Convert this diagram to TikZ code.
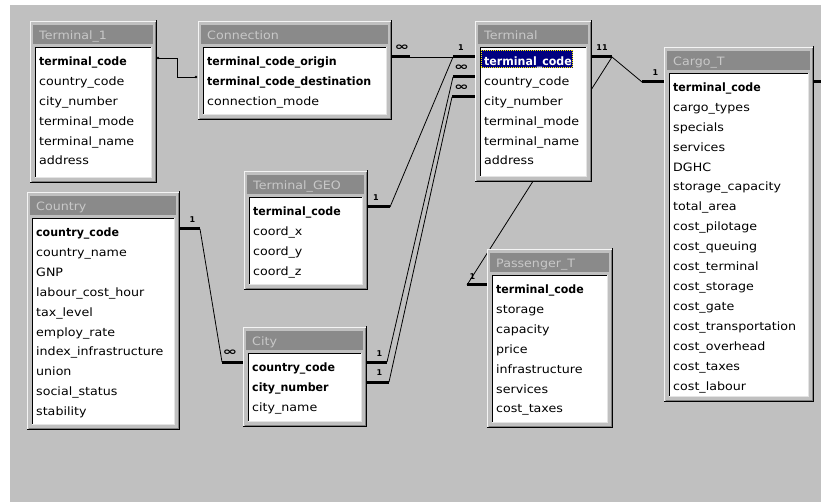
\documentclass[tikz,border=0pt]{standalone}
\usepackage{fontspec}
\newfontfamily\tabfont[FakeStretch=1.1]{DejaVu Sans}
\newfontfamily\keyfont[FakeStretch=0.96]{DejaVu Sans}
\newfontfamily\cardfont{DejaVu Sans}
\newfontfamily\inffont[FakeStretch=1.6]{DejaVu Sans}
\definecolor{winbg}{HTML}{C0C0C0}
\definecolor{titlegray}{HTML}{8A8A8A}
\definecolor{titletxt}{HTML}{C8C8C8}
\definecolor{framehi}{HTML}{F4F4F4}
\definecolor{framedk}{HTML}{808080}
\definecolor{selnavy}{HTML}{000080}
\newcommand{\kf}{\keyfont\bfseries}
\tikzset{
  x=1pt, y=-1pt,
  tabframe/.style={draw=none, fill=winbg, inner sep=0, outer sep=0},
  titletext/.style={text=titletxt, font=\tabfont\fontsize{11.5}{12}\selectfont, anchor=base west, inner sep=0},
  rowtext/.style={text=black, font=\tabfont\fontsize{11.5}{12}\selectfont, anchor=base west, inner sep=0},
  rel/.style={draw=black, line width=0.8pt},
  stub/.style={draw=black, line width=3pt},
  card/.style={font=\cardfont\bfseries\fontsize{8}{8}\selectfont, anchor=base, inner sep=0},
  infcard/.style={font=\inffont\bfseries\fontsize{11}{11}\selectfont, anchor=base, inner sep=0},
}
% id, title, x1, y1, x2, y2, extra code, rows
\newcommand{\dbtab}[8]{%
  \node[tabframe, minimum width={(#5-#3)*1pt}, minimum height={(#6-#4)*1pt}] (#1) at ({(#3+#5)/2},{(#4+#6)/2}) {};
  \draw[framehi, line width=1pt] (#3+0.5,#6-1) -- (#3+0.5,#4+0.5) -- (#5-1,#4+0.5);
  \draw[black, line width=1pt] (#3,#6-0.5) -- (#5-0.5,#6-0.5) -- (#5-0.5,#4-1);
  \draw[framedk, line width=1pt] (#3+1.5,#6-1.5) -- (#5-1.5,#6-1.5) -- (#5-1.5,#4+1);
  \fill[titlegray] (#3+3,#4+4) rectangle (#5-4,#4+23);
  \node[titletext] (#1-title) at (#3+9,#4+18.5) {#2};
  \fill[white] (#3+5,#4+26) rectangle (#5-6,#6-6);
  \draw[black, line width=1.2pt] (#3+5.6,#6-6) -- (#3+5.6,#4+26.6) -- (#5-6,#4+26.6);
  \draw[framehi!70!winbg, line width=1pt] (#3+5,#6-5.5) -- (#5-5.5,#6-5.5) -- (#5-5.5,#4+26);
  #7
  \foreach \rowtxt [count=\i from 0] in {#8} {
    \node[rowtext] (#1-r\i) at (#3+9,#4+44.5+19.9*\i) {\rowtxt};
  }
}
\begin{document}
\begin{tikzpicture}
\useasboundingbox (0,0) rectangle (821,502);
\fill[winbg] (0,0) rectangle (821,502);
\fill[white] (0,0) rectangle (821,5);
\fill[white] (0,0) rectangle (10,502);

% ---------- connector end points ----------
\coordinate (T1out) at (158,58);
\coordinate (CNin) at (196,77);
\coordinate (CNr) at (392,57);   \coordinate (CNrs) at (410,57);
\coordinate (TMl1) at (475,57);  \coordinate (TMl1s) at (453,57);
\coordinate (TMl2) at (475,77);  \coordinate (TMl2s) at (453,77);
\coordinate (TMl3) at (475,97);  \coordinate (TMl3s) at (452,97);
\coordinate (GEOr) at (368,207); \coordinate (GEOrs) at (390,207);
\coordinate (CIr1) at (367,362); \coordinate (CIr1s) at (387,362);
\coordinate (CIr2) at (367,382); \coordinate (CIr2s) at (389,382);
\coordinate (COr) at (180,229);  \coordinate (COrs) at (200,229);
\coordinate (CIl) at (243,362);  \coordinate (CIls) at (222,362);
\coordinate (TMr) at (592,57);   \coordinate (TMrs) at (612,57);
\coordinate (CGl) at (664,82);   \coordinate (CGls) at (642,82);
\coordinate (PSl) at (487,285);  \coordinate (PSls) at (467,285);
\coordinate (CGr) at (813,82);   \coordinate (CGrs) at (821,82);

% ---------- relationship lines ----------
\draw[rel] (T1out) -- (177,58) -- (177,77) -- (CNin);
\fill (T1out) circle (1.4); \fill (CNin) circle (1.4);

\draw[stub] (CNr) -- (CNrs);
\draw[rel] (CNrs) -- (TMl1s);
\draw[stub] (TMl1s) -- (TMl1);

\draw[stub] (GEOr) -- (GEOrs);
\draw[rel] (GEOrs) -- (TMl1s);

\draw[stub] (CIr1) -- (CIr1s);
\draw[rel] (CIr1s) -- (TMl2s);
\draw[stub] (TMl2s) -- (TMl2);

\draw[stub] (CIr2) -- (CIr2s);
\draw[rel] (CIr2s) -- (TMl3s);
\draw[stub] (TMl3s) -- (TMl3);

\draw[stub] (COr) -- (COrs);
\draw[rel] (COrs) -- (CIls);
\draw[stub] (CIls) -- (CIl);

\draw[stub] (TMr) -- (TMrs);
\draw[rel] (TMrs) -- (CGls);
\draw[stub] (CGls) -- (CGl);
\draw[rel] (TMrs) -- (PSls);
\draw[stub] (PSls) -- (PSl);

\draw[stub] (CGr) -- (CGrs);

% ---------- cardinality labels ----------
\node[infcard] (lCN) at (402,50.7) {∞};
\node[card] (lTM1) at (461,50.7) {1};
\node[infcard] (lTM2) at (461.5,70.7) {∞};
\node[infcard] (lTM3) at (461.5,90.7) {∞};
\node[card] (lGEO) at (376,201) {1};
\node[card] (lCI1) at (379.5,356) {1};
\node[card] (lCI2) at (379.5,375.5) {1};
\node[card] (lCO) at (192.5,222.7) {1};
\node[infcard] (lCIl) at (230,355.5) {∞};
\node[card] (lTMr) at (602,50.7) {11};
\node[card] (lCG) at (655.5,75.7) {1};
\node[card] (lPS) at (472.5,279.5) {1};

% ---------- tables ----------
\dbtab{T1}{Terminal\_1}{30}{21}{157}{183}{}{\kf terminal\_code, country\_code, city\_number, terminal\_mode, terminal\_name, address}
\dbtab{CN}{Connection}{198}{21}{392}{120}{}{\kf terminal\_code\_origin, \kf terminal\_code\_destination, connection\_mode}
\dbtab{TM}{Terminal}{475}{21}{592}{182}{%
  \fill[selnavy] (481,50) rectangle (573,68);
  \draw[yellow, line width=0.8pt, dash pattern=on 1pt off 1pt] (481.5,50.5) rectangle (572.5,67.5);
}{\kf\color{white}terminal\_code, country\_code, city\_number, terminal\_mode, terminal\_name, address}
\dbtab{CG}{Cargo\_T}{664}{47}{814}{402}{}{\kf terminal\_code, cargo\_types, specials, services, DGHC, storage\_capacity, total\_area, cost\_pilotage, cost\_queuing, cost\_terminal, cost\_storage, cost\_gate, cost\_transportation, cost\_overhead, cost\_taxes, cost\_labour}
\dbtab{CO}{Country}{27}{192}{180}{430}{}{\kf country\_code, country\_name, GNP, labour\_cost\_hour, tax\_level, employ\_rate, index\_infrastructure, union, social\_status, stability}
\dbtab{GEO}{Terminal\_GEO}{244}{171}{368}{290}{}{\kf terminal\_code, coord\_x, coord\_y, coord\_z}
\dbtab{CI}{City}{243}{327}{367}{427}{}{\kf country\_code, \kf city\_number, city\_name}
\dbtab{PS}{Passenger\_T}{487}{249}{613}{428}{}{\kf terminal\_code, storage, capacity, price, infrastructure, services, cost\_taxes}
\end{tikzpicture}
\end{document}
